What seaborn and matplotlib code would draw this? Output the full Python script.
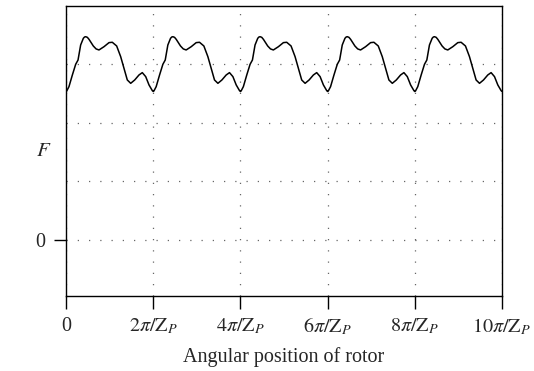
import numpy as np
import pandas as pd
import matplotlib
matplotlib.use("Agg")
import matplotlib.pyplot as plt
import seaborn as sns

# one period of the force curve
# phase: fraction of a period (period = 2*pi/Zp), force in grid units
phase = [0.0, 0.008, 0.034, 0.073, 0.111, 0.138, 0.168, 0.199, 0.213, 0.226,
         0.245, 0.264, 0.313, 0.345, 0.378, 0.436, 0.493, 0.531, 0.581,
         0.627, 0.665, 0.703, 0.742, 0.788, 0.837, 0.875, 0.914, 0.952, 0.990]
force = [2.53, 2.538, 2.612, 2.811, 2.993, 3.066, 3.322, 3.436, 3.458, 3.463,
         3.452, 3.418, 3.305, 3.255, 3.237, 3.293, 3.362, 3.368, 3.305,
         3.123, 2.925, 2.726, 2.669, 2.726, 2.811, 2.851, 2.783, 2.641, 2.544]
n_periods = 5

x_ticks = [0, 2, 4, 6, 8, 10]
x_ticklabels = ["0", r"$2\pi/\mathrm{Z}_P$", r"$4\pi/\mathrm{Z}_P$",
                r"$6\pi/\mathrm{Z}_P$", r"$8\pi/\mathrm{Z}_P$", r"$10\pi/\mathrm{Z}_P$"]
y_grid = [1, 2, 3]

# x in units of pi/Zp (one period = 2)
xs, ys = [], []
for k in range(n_periods):
    xs += [2 * (p + k) for p in phase]
    ys += force
xs.append(2 * n_periods)
ys.append(force[0])
df = pd.DataFrame({"x": xs, "F": ys})

sns.set_style("white")
plt.rcParams["font.family"] = ["Liberation Serif", "DejaVu Serif"]
plt.rcParams["mathtext.fontset"] = "stix"

fig = plt.figure(figsize=(5.34, 3.71), dpi=100)
ax = fig.add_axes([66 / 534, 1 - 296 / 371, 436 / 534, 290 / 371])

sns.lineplot(data=df, x="x", y="F", ax=ax, color="black", linewidth=1.1, sort=False)

ax.set_xlim(0, 10)
ax.set_ylim(-0.954, 3.986)

fs = 14.5
ax.set_xticks(x_ticks)
ax.set_xticklabels(x_ticklabels, fontsize=fs)
ax.set_yticks([0])
ax.set_yticklabels(["0"], fontsize=fs)
ax.set_yticks(y_grid, minor=True)
ax.tick_params(axis="both", which="major", direction="out", length=9, width=1,
               color="black", pad=6, left=True, bottom=True)
ax.tick_params(axis="y", which="minor", length=0)

ax.grid(True, which="both", axis="both", linestyle=(0, (1, 8)), color="#666666", linewidth=0.9)
ax.set_axisbelow(True)

for s in ax.spines.values():
    s.set_color("black")
    s.set_linewidth(1.0)

ax.set_xlabel("Angular position of rotor", fontsize=fs, labelpad=7)
ax.set_ylabel(r"$F$", fontsize=15, rotation=0)
ax.yaxis.set_label_coords(-0.05, 0.5)
ax.yaxis.label.set_verticalalignment("center")

fig.savefig("out.png", dpi=100)
